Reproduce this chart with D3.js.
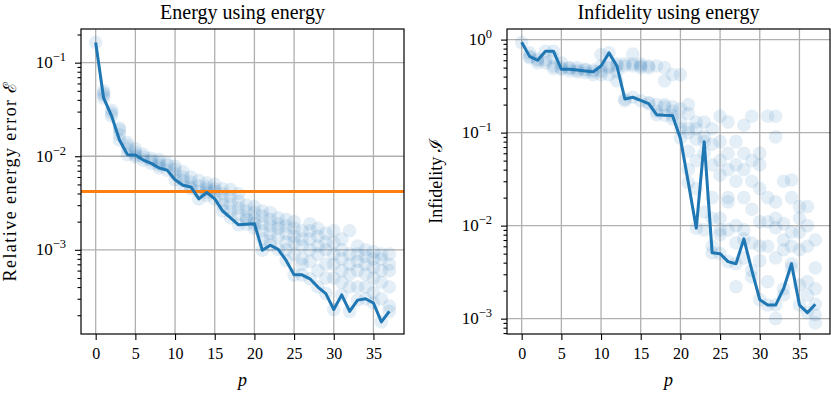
<!DOCTYPE html>
<html>
<head>
<meta charset="utf-8">
<script src="https://cdn.jsdelivr.net/npm/d3@7"></script>
<style>
body { margin: 0; background: #fff; }
text { font-family: "Liberation Serif", "DejaVu Serif", serif; fill: #000; }
</style>
</head>
<body>
<svg class="chart" width="831" height="394"></svg>
<script>

// Data:

var pSteps = [0,1,2,3,4,5,6,7,8,9,10,11,12,13,14,15,16,17,18,19,20,21,22,23,24,25,26,27,28,29,30,31,32,33,34,35,36,37];

var energyBest = [0.164,0.042,0.027,0.0149,0.0104,0.0103,0.0091,0.0084,0.0075,0.0071,
	0.0056,0.0049,0.0047,0.0035,0.0041,0.0035,0.0026,0.0022,0.00185,0.00188,
	0.0019,0.00099,0.00112,0.00101,0.00077,0.00054,0.00054,0.00049,0.0004,0.00034,
	0.00023,0.00033,0.00022,0.00029,0.0003,0.00027,0.00017,0.00022];

var energyRuns = [
	[0.164],
	[0.042,0.05,0.047,0.045],
	[0.027,0.031,0.029],
	[0.0149,0.019,0.017,0.02],
	[0.0104,0.013,0.014,0.012],
	[0.0103,0.012,0.011,0.0098],
	[0.0091,0.0098,0.0105],
	[0.0084,0.009,0.0095],
	[0.0075,0.0085,0.0092,0.008],
	[0.0071,0.008,0.0085],
	[0.0056,0.0072,0.0078,0.0065],
	[0.0049,0.006,0.0068,0.0055],
	[0.0047,0.0053,0.006,0.0045],
	[0.0035,0.0048,0.0055,0.0042],
	[0.0041,0.0047,0.0052,0.0044,0.0038],
	[0.0035,0.0045,0.005,0.0042],
	[0.0026,0.0034,0.004,0.0045,0.003],
	[0.0022,0.0031,0.0037,0.0026,0.0044],
	[0.00185,0.0024,0.0028,0.0033,0.004],
	[0.00188,0.0022,0.0026,0.003,0.0021],
	[0.0019,0.0021,0.0025,0.0029,0.0017],
	[0.00099,0.0016,0.0019,0.0023,0.0026,0.0013],
	[0.00112,0.0015,0.0018,0.0021,0.0025,0.00125],
	[0.00101,0.0014,0.0017,0.0019,0.0022],
	[0.00077,0.0012,0.0015,0.0018,0.0021,0.001],
	[0.00054,0.0009,0.0012,0.0014,0.0017,0.002],
	[0.00054,0.0008,0.0011,0.0013,0.0016,0.0007],
	[0.00049,0.00075,0.001,0.0013,0.0016,0.0019],
	[0.0004,0.0006,0.0009,0.0011,0.0014,0.0017],
	[0.00034,0.0005,0.0007,0.001,0.0012,0.0015],
	[0.00023,0.0005,0.0007,0.0009,0.0012,0.0016],
	[0.00033,0.00045,0.0006,0.0008,0.001,0.0013],
	[0.00022,0.0004,0.00055,0.0007,0.0009,0.0016],
	[0.00029,0.0004,0.0006,0.00075,0.0009,0.0011],
	[0.0003,0.0004,0.00055,0.0007,0.00085,0.001],
	[0.00027,0.00035,0.0005,0.00065,0.0008,0.00095],
	[0.00017,0.0003,0.00045,0.0006,0.0008,0.0009],
	[0.00022,0.00025,0.0004,0.0006,0.0007,0.0009]
];

var energyThreshold = 0.0042;

var infidBest = [0.935,0.66,0.6,0.75,0.75,0.48,0.48,0.47,0.46,0.45,
	0.52,0.72,0.52,0.23,0.24,0.222,0.205,0.156,0.154,0.153,
	0.087,0.029,0.0094,0.08,0.0051,0.005,0.0041,0.0039,0.0072,0.0033,
	0.0016,0.0014,0.0014,0.0021,0.0039,0.0014,0.00116,0.00143];

var infidRuns = [
	[0.93],
	[0.72,0.64,0.66],
	[0.6,0.56,0.62],
	[0.75,0.56,0.6],
	[0.75,0.64,0.49,0.52],
	[0.48,0.56,0.5],
	[0.49,0.46,0.5],
	[0.47,0.45,0.5],
	[0.47,0.44,0.48],
	[0.45,0.42,0.47],
	[0.52,0.69,0.42,0.46],
	[0.72,0.52,0.42,0.5],
	[0.52,0.55,0.45,0.36],
	[0.23,0.55,0.52,0.22],
	[0.24,0.52,0.7,0.55],
	[0.22,0.52,0.55,0.5],
	[0.205,0.52,0.5,0.21],
	[0.156,0.52,0.2,0.17],
	[0.154,0.5,0.2,0.19,0.36],
	[0.153,0.42,0.19,0.17,0.14],
	[0.087,0.42,0.18,0.13,0.11],
	[0.029,0.2,0.16,0.11,0.1,0.063,0.04],
	[0.0094,0.13,0.11,0.085,0.05,0.025],
	[0.08,0.13,0.09,0.06,0.014,0.009],
	[0.0051,0.11,0.075,0.045,0.02,0.012,0.006],
	[0.005,0.15,0.08,0.05,0.035,0.012,0.008,0.009],
	[0.0041,0.13,0.06,0.04,0.02,0.018,0.009],
	[0.0039,0.08,0.045,0.03,0.01,0.0065,0.0022],
	[0.0072,0.12,0.06,0.04,0.02,0.009,0.0045],
	[0.0033,0.15,0.05,0.03,0.015,0.0065,0.0028],
	[0.0016,0.06,0.045,0.025,0.011,0.006,0.0042],
	[0.0014,0.15,0.02,0.011,0.006,0.0025],
	[0.0014,0.15,0.09,0.018,0.012,0.0095,0.0045,0.001],
	[0.0021,0.03,0.0105,0.007,0.0055,0.0018],
	[0.0039,0.031,0.02,0.0085,0.006,0.0035],
	[0.0014,0.016,0.012,0.0085,0.0055,0.0023],
	[0.00116,0.016,0.01,0.006,0.0025,0.0018],
	[0.00143,0.007,0.0035,0.0021,0.0009,0.0011]
];

var xTicks = [0,5,10,15,20,25,30,35];
var energyDecades = [-3,-2,-1];
var infidDecades = [-3,-2,-1,0];

// Panel geometry:

var plotTop = 29, plotBottom = 334,
	blue = "#1f77b4",
	orange = "#ff7f0e",
	gridColor = "#b0b0b0";

var chart = d3.select(".chart");

drawPanel({
	left: 81, right: 404,
	yDomain: [1.26e-4, 0.229],
	decades: energyDecades,
	title: "Energy using energy",
	ylabel: "Relative energy error \u2130",
	ylabelX: 10,
	ylabelSize: 18,
	ylabelLength: 200,
	runs: energyRuns,
	best: energyBest,
	threshold: energyThreshold
});

drawPanel({
	left: 507, right: 830,
	yDomain: [6.84e-4, 1.30],
	decades: infidDecades,
	title: "Infidelity using energy",
	ylabel: "Infidelity \u2110",
	ylabelX: 436,
	ylabelSize: 18,
	runs: infidRuns,
	best: infidBest
});

function drawPanel(o) {

// One log-scale panel: grid, dots, best line, axes and labels

	var x = d3.scaleLinear()
		.domain([-1.85, 38.85])
		.range([o.left, o.right]);

	var y = d3.scaleLog()
		.domain(o.yDomain)
		.range([plotBottom, plotTop]);

	var g = chart.append("g");

	var majors = o.decades.map(function(k) { return Math.pow(10, k); });
	var minors = [];
	d3.range(o.decades[0] - 1, o.decades[o.decades.length - 1] + 1).forEach(function(k) {
		[2,3,4,5,6,7,8,9].forEach(function(m) {
			var v = m * Math.pow(10, k);
			if (v > o.yDomain[0] && v < o.yDomain[1]) minors.push(v);
		});
	});

	// grid
	g.selectAll(".vgrid")
		.data(xTicks)
	.enter().append("line")
		.attr("x1", function(d) { return x(d); })
		.attr("x2", function(d) { return x(d); })
		.attr("y1", plotTop)
		.attr("y2", plotBottom)
		.style("stroke", gridColor)
		.style("stroke-width", 1.3);

	g.selectAll(".hgrid")
		.data(majors)
	.enter().append("line")
		.attr("x1", o.left)
		.attr("x2", o.right)
		.attr("y1", function(d) { return y(d); })
		.attr("y2", function(d) { return y(d); })
		.style("stroke", gridColor)
		.style("stroke-width", 1.3);

	// clip to axes box
	var clipId = "clip" + o.left;
	g.append("clipPath")
		.attr("id", clipId)
	.append("rect")
		.attr("x", o.left)
		.attr("y", plotTop)
		.attr("width", o.right - o.left)
		.attr("height", plotBottom - plotTop);

	var plot = g.append("g").attr("clip-path", "url(#" + clipId + ")");

	// scatter of all runs
	var pts = [];
	o.runs.forEach(function(vals, i) {
		vals.forEach(function(v) { pts.push({p: pSteps[i], v: v}); });
	});

	plot.selectAll(".dot")
		.data(pts)
	.enter().append("circle")
		.attr("cx", function(d) { return x(d.p); })
		.attr("cy", function(d) { return y(d.v); })
		.attr("r", 6.8)
		.style("fill", blue)
		.style("fill-opacity", 0.12);

	if (o.threshold) {
		plot.append("line")
			.attr("x1", o.left)
			.attr("x2", o.right)
			.attr("y1", y(o.threshold))
			.attr("y2", y(o.threshold))
			.style("stroke", orange)
			.style("stroke-width", 3);
	}

	var line = d3.line()
		.x(function(d, i) { return x(pSteps[i]); })
		.y(function(d) { return y(d); });

	plot.append("path")
		.datum(o.best)
		.attr("d", line)
		.style("fill", "none")
		.style("stroke", blue)
		.style("stroke-width", 3)
		.style("stroke-linejoin", "round");

	// axes
	var xAxis = g.append("g")
		.attr("transform", "translate(0," + plotBottom + ")")
		.call(d3.axisBottom(x).tickValues(xTicks).tickSize(6).tickPadding(8));

	var yMinor = g.append("g")
		.attr("transform", "translate(" + o.left + ",0)")
		.call(d3.axisLeft(y).tickValues(minors).tickSize(3.5).tickFormat(""));

	var yMajor = g.append("g")
		.attr("transform", "translate(" + o.left + ",0)")
		.call(d3.axisLeft(y).tickValues(majors).tickSize(6).tickPadding(4).tickFormat(""));

	[xAxis, yMinor, yMajor].forEach(function(a) {
		a.select(".domain").remove();
		a.selectAll("line").style("stroke", "#000").style("stroke-width", 1.1);
	});

	xAxis.selectAll("text")
		.style("font-size", "16px")
		.style("font-family", "'Liberation Serif', serif");

	// y tick labels with superscript exponents
	o.decades.forEach(function(k) {
		var t = g.append("text")
			.attr("x", o.left - 15)
			.attr("y", y(Math.pow(10, k)) + 5.5)
			.style("text-anchor", "end")
			.style("font-size", "17px");
		t.append("tspan").text("10");
		t.append("tspan")
			.attr("dy", -7)
			.style("font-size", "12.5px")
			.text(k < 0 ? "\u2212" + (-k) : k);
	});

	// box
	g.append("rect")
		.attr("x", o.left)
		.attr("y", plotTop)
		.attr("width", o.right - o.left)
		.attr("height", plotBottom - plotTop)
		.style("fill", "none")
		.style("stroke", "#000")
		.style("stroke-width", 1.2);

	// titles and labels
	g.append("text")
		.attr("x", (o.left + o.right) / 2)
		.attr("y", 19)
		.style("text-anchor", "middle")
		.style("font-size", "20px")
		.text(o.title);

	g.append("text")
		.attr("x", (o.left + o.right) / 2)
		.attr("y", 386)
		.style("text-anchor", "middle")
		.style("font-size", "18px")
		.style("font-style", "italic")
		.text("p");

	var yl = g.append("text")
		.attr("transform", "translate(" + o.ylabelX + "," + ((plotTop + plotBottom) / 2) + ") rotate(-90)")
		.attr("dy", "0.35em")
		.style("text-anchor", "middle")
		.style("font-size", o.ylabelSize + "px")
		.text(o.ylabel);
	if (o.ylabelLength) {
		yl.attr("textLength", o.ylabelLength).attr("lengthAdjust", "spacing");
	}
}

</script>
</body>
</html>
